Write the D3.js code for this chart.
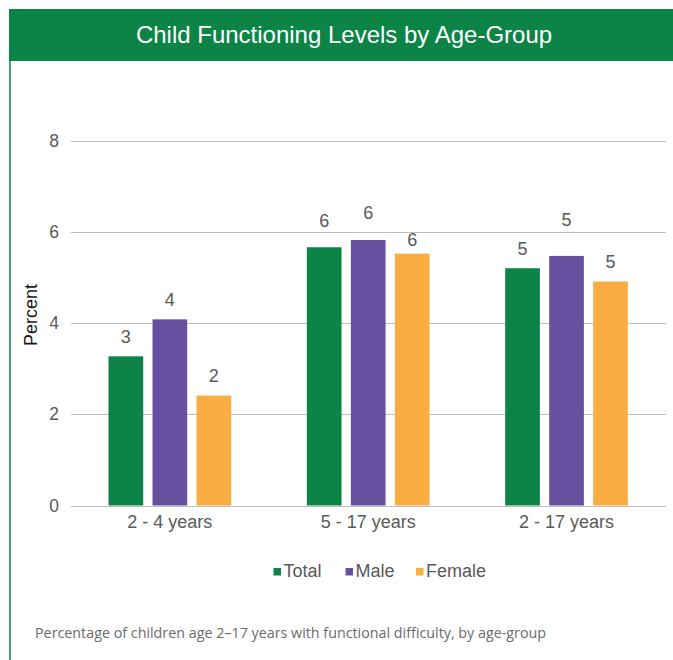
<!DOCTYPE html>
<html><head><meta charset="utf-8">
<script src="https://cdn.jsdelivr.net/npm/d3@7"></script>
<style>html,body{margin:0;padding:0;background:#fff;}svg{display:block;}</style>
</head><body>
<script>
const categories = ["2 - 4 years", "5 - 17 years", "2 - 17 years"];
const seriesNames = ["Total", "Male", "Female"];
const totalValues = [3.27, 5.66, 5.20];
const maleValues = [4.08, 5.82, 5.47];
const femaleValues = [2.41, 5.52, 4.91];
const yTicks = [0, 2, 4, 6, 8];
const colors = ["#0b8446", "#67509f", "#f9ad42"];

const W = 673, H = 660;
const svg = d3.select("body").append("svg").attr("width", W).attr("height", H);
const font = "'Liberation Sans', Arial, sans-serif";

// frame
svg.append("rect").attr("x", 9).attr("y", 9).attr("width", W - 9).attr("height", 52).attr("fill", "#0b8446");
svg.append("line").attr("x1", 10).attr("x2", 10).attr("y1", 60).attr("y2", H).attr("stroke", "#0b8446").attr("stroke-width", 1.5);
svg.append("text").attr("x", 344).attr("y", 43).attr("text-anchor", "middle")
  .attr("font-family", font).attr("font-size", 24).attr("fill", "#fff")
  .text("Child Functioning Levels by Age-Group");

const x0 = d3.scaleBand().domain(categories).range([70.7, 665.7]).padding(0);
const y = d3.scaleLinear().domain([0, 8]).range([505.5, 140.5]);
const series = [totalValues, maleValues, femaleValues];
const barW = 34.7;
const x1 = d3.scalePoint().domain(seriesNames).range([-44, 44]);

// grid
svg.append("g").selectAll("line").data(yTicks).join("line")
  .attr("x1", 70.7).attr("x2", 665.7)
  .attr("y1", d => Math.round(y(d)) + 0.5).attr("y2", d => Math.round(y(d)) + 0.5)
  .attr("stroke", "#bfbfbf").attr("stroke-width", 1);

// y tick labels
svg.append("g").selectAll("text").data(yTicks).join("text")
  .attr("x", 59).attr("y", d => y(d)).attr("dy", "0.35em").attr("text-anchor", "end")
  .attr("font-family", font).attr("font-size", 17.5).attr("fill", "#595959")
  .text(d => d);

svg.append("text").attr("transform", "translate(37,315) rotate(-90)").attr("text-anchor", "middle")
  .attr("font-family", font).attr("font-size", 18).attr("fill", "#1a1a1a").text("Percent");

// bars
const groups = svg.append("g").selectAll("g").data(categories).join("g")
  .attr("transform", c => `translate(${x0(c) + x0.bandwidth() / 2},0)`);
const labelLift = [[20, 20, 20], [27, 27, 14], [20, 36, 20]];
groups.each(function(c, ci) {
  const g = d3.select(this);
  seriesNames.forEach((s, si) => {
    const v = series[si][ci];
    g.append("rect").attr("x", x1(s) - barW / 2).attr("y", y(v)).attr("width", barW)
      .attr("height", y(0) - y(v)).attr("fill", colors[si]);
    g.append("text").attr("x", x1(s)).attr("y", y(v) - labelLift[ci][si])
      .attr("dy", "0.35em").attr("text-anchor", "middle")
      .attr("font-family", font).attr("font-size", 18).attr("fill", "#595959")
      .text(d3.format(".0f")(v));
  });
});

// category labels
svg.append("g").selectAll("text").data(categories).join("text")
  .attr("x", c => x0(c) + x0.bandwidth() / 2).attr("y", 528).attr("text-anchor", "middle")
  .attr("font-family", font).attr("font-size", 18).attr("fill", "#595959").text(c => c);

// legend
const legendX = [273.5, 345.5, 416];
const lg = svg.append("g").selectAll("g").data(seriesNames).join("g")
  .attr("transform", (d, i) => `translate(${legendX[i]},571)`);
lg.append("rect").attr("x", 0).attr("y", -3).attr("width", 7.5).attr("height", 7.5).attr("fill", (d, i) => colors[i]);
lg.append("text").attr("x", 10).attr("y", 0).attr("dy", "0.35em")
  .attr("font-family", font).attr("font-size", 18).attr("fill", "#595959").text(d => d);

// footer
svg.append("text").attr("x", 35).attr("y", 638)
  .attr("font-family", "'Open Sans', 'Noto Sans', sans-serif").attr("font-size", 14.3).attr("fill", "#6b6b6b")
  .text("Percentage of children age 2–17 years with functional difficulty, by age-group");
</script>
</body></html>
